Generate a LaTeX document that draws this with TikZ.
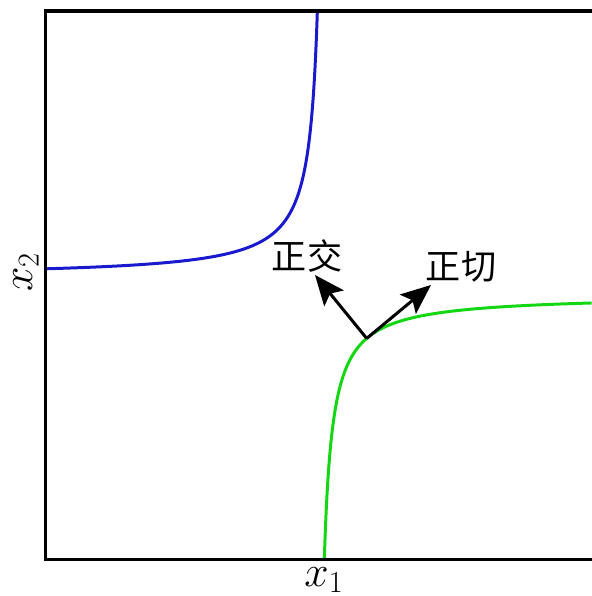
\documentclass[tikz,border=0pt]{standalone}
\usepackage{fontspec}
\newfontfamily\cjk{Noto Sans CJK SC}
\usepackage{tikz}
\usetikzlibrary{arrows.meta,positioning,calc}
\definecolor{curveblue}{RGB}{25,25,205}
\definecolor{curvegreen}{RGB}{20,215,20}

\begin{document}
\begin{tikzpicture}[x=0.02cm,y=-0.02cm,
    frameline/.style={line width=2pt,line cap=rect},
    vec/.style={line width=1.7pt,-{Stealth[length=0.6cm,width=0.5cm,inset=0.12cm]}},
    lab/.style={inner sep=0pt,font=\cjk\fontsize{20}{24}\selectfont},
    axlab/.style={inner sep=0pt,font=\fontsize{23}{27}\selectfont}]
  \useasboundingbox (0,0) rectangle (592,596);
  % level curves: two branches of a hyperbola
  \draw[curveblue,line width=1.7pt] plot[variable=\s,domain=2.157:5.635,samples=140]
    ({326-exp(\s)},{277-2300/exp(\s)});
  \draw[curvegreen,line width=1.7pt] plot[variable=\s,domain=2.124:5.62,samples=140]
    ({316+exp(\s)},{295+2200/exp(\s)});
  % tangent and normal at a point of the green branch
  \coordinate (touch) at (366.7,338.4);
  \coordinate (tantip) at (431,285);
  \coordinate (normtip) at (315,275);
  \draw[vec] (touch) -- (normtip);
  \draw[vec] (touch) -- (tantip);
  \node[lab] (ortho) at (307,256) {正交};
  \node[lab] (tang) at (461,267) {正切};
  % axes box
  \draw[frameline] (592,11) -- (45.5,11) -- (45.5,559.5) -- (592,559.5);
  \node[axlab] (xone) at (324,580) {$x_1$};
  \node[axlab,rotate=90] (xtwo) at (26,272) {$x_2$};
\end{tikzpicture}
\end{document}
